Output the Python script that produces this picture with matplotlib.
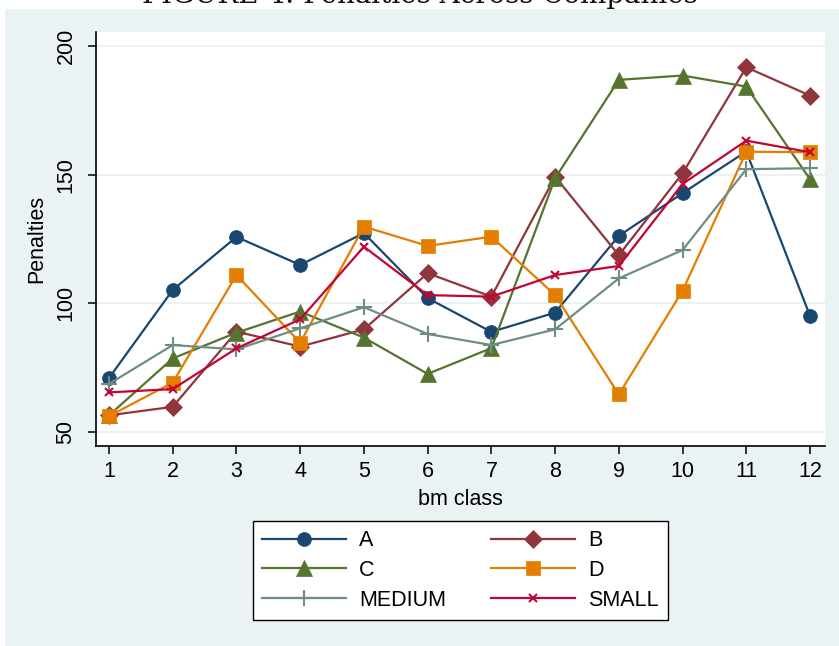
import matplotlib.pyplot as plt
from matplotlib.patches import Rectangle

# Penalties by bm class for each company group
bm_class = [1, 2, 3, 4, 5, 6, 7, 8, 9, 10, 11, 12]
pen_a = [71, 105.2, 125.8, 114.9, 127.3, 102, 88.9, 96.4, 126.2, 142.8, 159, 95.1]
pen_b = [56.5, 59.8, 89, 83.2, 89.9, 111.7, 102.6, 149.2, 118.7, 150.5, 191.7, 180.7]
pen_c = [56.5, 78.6, 88.6, 96.8, 86.7, 72.6, 82.6, 148.6, 186.8, 188.5, 184.2, 148.2]
pen_d = [56.2, 69.2, 111, 84.7, 129.8, 122.3, 125.9, 103.2, 64.6, 104.9, 158.9, 158.7]
pen_medium = [68.7, 83.8, 82.1, 90.3, 98.5, 88.1, 83.8, 89.9, 109.7, 120.7, 152.1, 152.5]
pen_small = [65.4, 66.7, 82.5, 93.8, 122, 103.2, 102.6, 111, 114.5, 146.4, 163.2, 158.7]
series_names = ["A", "B", "C", "D", "MEDIUM", "SMALL"]

plt.rcParams["font.family"] = ["Liberation Sans", "DejaVu Sans"]

W, H = 839, 646
fig = plt.figure(figsize=(W / 100, H / 100), dpi=100)
fig.patch.set_facecolor("white")

# light graph region behind everything
bg = "#eaf2f3"
fig.patches.append(Rectangle((5 / W, 0), 1, 1 - 9 / H, transform=fig.transFigure,
                             facecolor=bg, edgecolor="none", zorder=-5))

fig.text(0.5, 1 - 3 / H, "FIGURE 4: Penalties Across Companies", ha="center", va="baseline",
         family="DejaVu Serif", fontsize=20, color="#111111")

left, right, top, bottom = 96, 825, 32, 445.7
ax = fig.add_axes([left / W, 1 - bottom / H, (right - left) / W, (bottom - top) / H])
ax.set_facecolor("white")

styles = [
    (pen_a, "#1a476f", "o", 10),
    (pen_b, "#90353b", "D", 9),
    (pen_c, "#55752f", "^", 11),
    (pen_d, "#e37e00", "s", 10),
    (pen_medium, "#6e8e84", "+", 11),
    (pen_small, "#c10534", "x", 6),
]
lines = []
for (vals, col, mk, ms), name in zip(styles, series_names):
    ln, = ax.plot(bm_class, vals, color=col, marker=mk, markersize=ms, lw=1.6,
                  markeredgewidth=1.5 if mk in "+x" else 0.5, label=name)
    lines.append(ln)

ax.set_xlim(0.796, 12.235)
ax.set_ylim(44.7, 205.4)
ax.set_xticks(bm_class)
ax.set_yticks([50, 100, 150, 200])
ax.grid(axis="y", color=bg, lw=1.5)
ax.set_axisbelow(True)
for s in ["top", "right"]:
    ax.spines[s].set_visible(False)
for s in ["left", "bottom"]:
    ax.spines[s].set_linewidth(1.2)
ax.tick_params(axis="both", length=6, width=1.1, labelsize=15.5)
ax.tick_params(axis="x", pad=5)
ax.tick_params(axis="y", pad=8)
for lab in ax.get_yticklabels():
    lab.set_rotation(90)
    lab.set_va("center")
ax.set_xlabel("bm class", fontsize=15.5, labelpad=5)
ax.set_ylabel("Penalties", fontsize=15.5, labelpad=6)

# two columns filled row by row: A B / C D / MEDIUM SMALL
order = [0, 2, 4, 1, 3, 5]
leg = fig.legend([lines[i] for i in order], [series_names[i] for i in order],
                 loc="center", bbox_to_anchor=((253 + 668) / 2 / W, 1 - (518 + 623) / 2 / H),
                 ncol=2, fontsize=15.5, frameon=True, fancybox=False, handlelength=3.9,
                 handletextpad=0.6, columnspacing=2.1, labelspacing=0.4, borderpad=0.45)
leg.get_frame().set_edgecolor("black")
leg.get_frame().set_facecolor("white")
leg.get_frame().set_alpha(1)
leg.get_frame().set_linewidth(1.0)

fig.savefig("out.png", dpi=100, facecolor="white")
